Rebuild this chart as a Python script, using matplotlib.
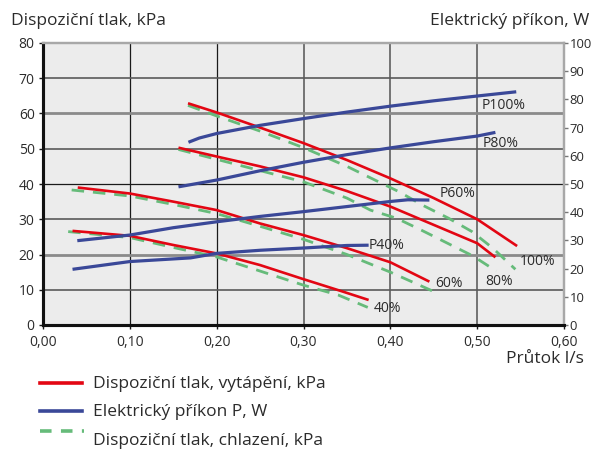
import matplotlib
matplotlib.use("Agg")
import matplotlib.pyplot as plt
from matplotlib.lines import Line2D

plt.rcParams['font.family'] = ['Open Sans', 'DejaVu Sans']

# ---- data (flow l/s, pressure kPa / power W) ----
heat100_x = [0.167, 0.20, 0.25, 0.30, 0.35, 0.40, 0.45, 0.50, 0.546]
heat100_y = [62.9, 60.3, 56.0, 51.6, 46.8, 41.6, 36.0, 30.0, 22.4]
heat80_x = [0.156, 0.20, 0.25, 0.30, 0.35, 0.40, 0.45, 0.50, 0.521]
heat80_y = [50.3, 47.8, 45.0, 41.9, 38.0, 33.6, 28.4, 23.2, 19.2]
heat60_x = [0.040, 0.10, 0.15, 0.20, 0.25, 0.30, 0.35, 0.40, 0.445]
heat60_y = [39.0, 37.3, 35.0, 32.6, 28.8, 25.5, 21.8, 17.8, 12.3]
heat40_x = [0.034, 0.10, 0.15, 0.20, 0.25, 0.30, 0.345, 0.375]
heat40_y = [26.7, 25.3, 22.7, 20.3, 17.0, 13.0, 9.5, 7.1]

cool100_x = [0.167, 0.20, 0.25, 0.30, 0.35, 0.41, 0.437, 0.467, 0.494, 0.518, 0.544]
cool100_y = [62.3, 59.3, 55.0, 50.3, 45.0, 37.8, 34.0, 30.3, 26.5, 21.8, 15.8]
cool80_x = [0.156, 0.20, 0.25, 0.30, 0.35, 0.377, 0.407, 0.435, 0.465, 0.495, 0.522]
cool80_y = [49.8, 47.0, 43.8, 40.6, 36.0, 32.6, 30.3, 27.0, 23.3, 19.6, 15.3]
cool60_x = [0.033, 0.10, 0.15, 0.20, 0.25, 0.30, 0.35, 0.40, 0.449]
cool60_y = [38.3, 36.6, 34.2, 31.6, 28.0, 24.3, 20.0, 15.0, 9.6]
cool40_x = [0.029, 0.10, 0.15, 0.20, 0.25, 0.30, 0.34, 0.374]
cool40_y = [26.5, 24.8, 22.0, 19.3, 15.3, 11.3, 8.5, 5.0]

p100_x = [0.1675, 0.18, 0.20, 0.25, 0.30, 0.35, 0.40, 0.45, 0.50, 0.545]
p100_y = [64.8, 66.3, 67.9, 70.8, 73.2, 75.5, 77.6, 79.5, 81.2, 82.7]
p80_x = [0.156, 0.20, 0.25, 0.30, 0.35, 0.40, 0.45, 0.50, 0.521]
p80_y = [49.0, 51.4, 54.7, 57.7, 60.4, 62.8, 65.0, 67.0, 68.3]
p60_x = [0.0395, 0.10, 0.15, 0.20, 0.25, 0.30, 0.35, 0.40, 0.42, 0.445]
p60_y = [29.9, 31.9, 34.5, 36.6, 38.5, 40.2, 42.0, 43.8, 44.4, 44.3]
p40_x = [0.034, 0.10, 0.17, 0.20, 0.25, 0.30, 0.35, 0.375]
p40_y = [19.75, 22.5, 23.8, 25.4, 26.5, 27.3, 28.2, 28.3]

x_ticks = [0.0, 0.1, 0.2, 0.3, 0.4, 0.5, 0.6]
x_labels = ["0,00", "0,10", "0,20", "0,30", "0,40", "0,50", "0,60"]
left_ticks = [0, 10, 20, 30, 40, 50, 60, 70, 80]
right_ticks = [0, 10, 20, 30, 40, 50, 60, 70, 80, 90, 100]

curve_labels = [
    ("P100%", 0.505, 62.2), ("P80%", 0.506, 51.5), ("P60%", 0.457, 37.4),
    ("P40%", 0.3745, 22.5), ("100%", 0.5494, 18.0), ("80%", 0.509, 12.3),
    ("60%", 0.4515, 11.8), ("40%", 0.381, 4.7),
]

legend_labels = ["Dispoziční tlak, vytápění, kPa", "Elektrický příkon P, W",
                 "Dispoziční tlak, chlazení, kPa"]

RED = "#e30613"
BLUE = "#3a4898"
GREEN = "#66bb7a"
TXT = "#2b2b2b"

W, H = 592, 450
fig = plt.figure(figsize=(W / 100, H / 100), dpi=100)
fig.patch.set_facecolor("white")
ax = fig.add_axes([43 / W, 1 - 325 / H, (564 - 43) / W, (325 - 43) / H])
ax.set_facecolor("#ececec")
ax.set_xlim(0, 0.6)
ax.set_ylim(0, 80)

# grid
for xv in x_ticks[1:-1]:
    if xv < 0.25:
        ax.axvline(xv, color="#1a1a1a", lw=0.9, zorder=1)
    else:
        ax.axvline(xv, color="#6a6a6a", lw=1.3, zorder=1)
for yv in left_ticks[1:-1]:
    if yv in (40,):
        ax.axhline(yv, color="#1a1a1a", lw=0.9, zorder=1)
    elif yv in (20, 60):
        ax.axhline(yv, color="#8a8a8a", lw=2.0, zorder=1)
    else:
        ax.axhline(yv, color="#5a5a5a", lw=1.2, zorder=1)

ax2 = ax.twinx()
ax2.set_ylim(0, 100)
ax2.patch.set_visible(False)

dash = (0, (4.5, 3.2))
for xs, ys in [(cool100_x, cool100_y), (cool80_x, cool80_y),
               (cool60_x, cool60_y), (cool40_x, cool40_y)]:
    ax.plot(xs, ys, color=GREEN, lw=2.0, linestyle=dash, zorder=3)
for xs, ys in [(heat100_x, heat100_y), (heat80_x, heat80_y),
               (heat60_x, heat60_y), (heat40_x, heat40_y)]:
    ax.plot(xs, ys, color=RED, lw=1.9, zorder=4, solid_capstyle="butt")
for xs, ys in [(p100_x, p100_y), (p80_x, p80_y), (p60_x, p60_y), (p40_x, p40_y)]:
    ax2.plot(xs, ys, color=BLUE, lw=2.3, zorder=5, solid_capstyle="butt")

for txt, xv, yv in curve_labels:
    ax.text(xv, yv, txt, fontsize=10, color=TXT, ha="left", va="center", zorder=6)

# axes styling
ax.set_xticks(x_ticks)
ax.set_xticklabels(x_labels)
ax.set_yticks(left_ticks)
ax.tick_params(axis="both", colors="#1a1a1a", labelcolor=TXT, labelsize=10,
               length=3, width=1, direction="out", pad=3)
ax.tick_params(axis="x", pad=4)
ax2.set_yticks(right_ticks)
ax2.tick_params(axis="y", colors="#777777", labelcolor=TXT, labelsize=9.4,
                length=3, width=1, direction="out", pad=1)
for a in (ax, ax2):
    a.spines["left"].set_color("#111111")
    a.spines["left"].set_linewidth(2.2)
    a.spines["bottom"].set_color("#111111")
    a.spines["bottom"].set_linewidth(2.2)
    a.spines["top"].set_color("#a8a8a8")
    a.spines["top"].set_linewidth(1.6)
    a.spines["right"].set_color("#a8a8a8")
    a.spines["right"].set_linewidth(1.6)

# titles
fig.text(11 / W, 1 - 21 / H, "Dispoziční tlak, kPa", fontsize=12.5, color=TXT,
         ha="left", va="center")
fig.text(589 / W, 1 - 21 / H, "Elektrický příkon, W", fontsize=12.5, color=TXT,
         ha="right", va="center")
fig.text(584 / W, 1 - 359 / H, "Průtok l/s", fontsize=12.5, color=TXT,
         ha="right", va="center")

# legend (manual)
leg_rows = [(383, 384, RED, "-"), (411, 412, BLUE, "-"), (431, 441, GREEN, "--")]
for (ly, ty, col, ls), lab in zip(leg_rows, legend_labels):
    if ls == "-":
        fig.add_artist(Line2D([40 / W, 82 / W], [1 - ly / H, 1 - ly / H],
                              color=col, lw=2.6, transform=fig.transFigure))
    else:
        fig.add_artist(Line2D([40 / W, 84 / W], [1 - ly / H, 1 - ly / H],
                              color=col, lw=2.6, linestyle=(0, (3.2, 2.6)),
                              transform=fig.transFigure))
    fig.text(93 / W, 1 - ty / H, lab, fontsize=12.5, color=TXT, ha="left", va="center")

fig.savefig("out.png", dpi=100)
